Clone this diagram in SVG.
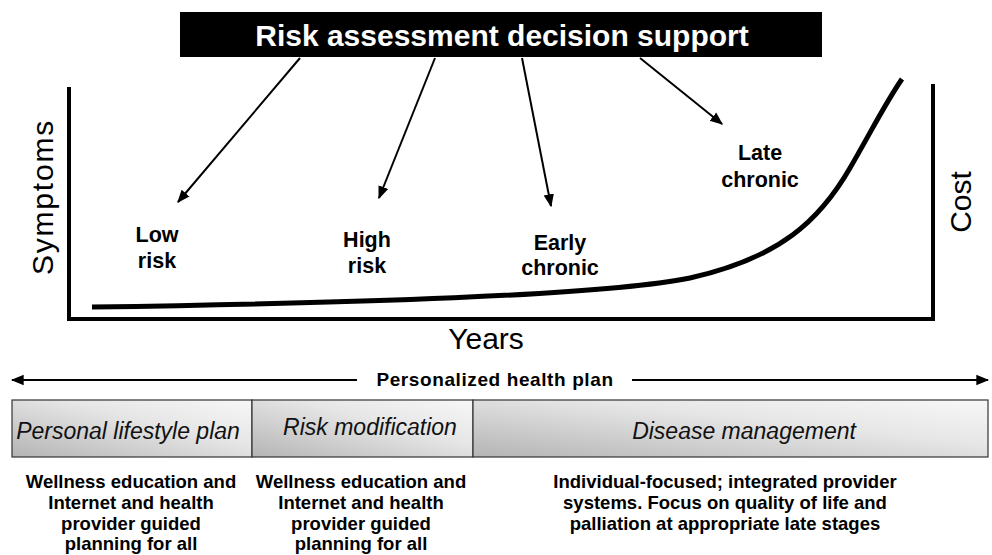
<svg xmlns="http://www.w3.org/2000/svg" width="992" height="555" viewBox="0 0 992 555">
<style>
.lbl{font-family:"Liberation Sans",Arial,sans-serif;font-weight:bold;font-size:21.5px;fill:#000;text-anchor:middle}
.axis{font-family:"Liberation Sans",Arial,sans-serif;font-size:30px;fill:#000;text-anchor:middle}
.box{font-family:"Liberation Sans",Arial,sans-serif;font-style:italic;font-size:23px;fill:#111;text-anchor:middle}
.desc{font-family:"Liberation Sans",Arial,sans-serif;font-weight:bold;font-size:18.5px;fill:#000;text-anchor:middle}
.ax{stroke:#000;stroke-width:4;fill:none}
.arr{stroke:#000;stroke-width:2;fill:none;marker-end:url(#ah)}
</style>
<defs>
<marker id="ah" viewBox="0 0 10 10" refX="9" refY="5" markerWidth="6.5" markerHeight="6.5" markerUnits="strokeWidth" orient="auto">
<path d="M0,1 L10,5 L0,9 z" fill="#000"/>
</marker>
<linearGradient id="g" x1="0" y1="1" x2="1" y2="0">
<stop offset="0" stop-color="#b4b4b4"/>
<stop offset="0.6" stop-color="#e6e6e6"/>
<stop offset="1" stop-color="#f7f7f7"/>
</linearGradient>
</defs>
<rect width="992" height="555" fill="#fff"/>

<g id="title">
<rect x="180" y="12" width="642" height="45" fill="#000"/>
<text x="502" y="46" font-family="Liberation Sans,Arial,sans-serif" font-weight="bold" font-size="30" fill="#fff" text-anchor="middle">Risk assessment decision support</text>
</g>

<g id="chart">
<path class="ax" d="M69,87 V319 H933 V84"/>
<path d="M92,307 C 350,303 600,296 690,278 C 780,258 820,220 850,168 C 872,130 886,102 902,79" stroke="#000" stroke-width="5" fill="none"/>
<text class="axis" transform="translate(53,197) rotate(-90)" letter-spacing="1.8">Symptoms</text>
<text class="axis" transform="translate(971,202) rotate(-90)">Cost</text>
<text class="axis" x="486" y="349">Years</text>
</g>

<g id="low-risk"><text class="lbl" x="157" y="242">Low</text><text class="lbl" x="157" y="268">risk</text></g>
<g id="high-risk"><text class="lbl" x="367" y="247">High</text><text class="lbl" x="367" y="273">risk</text></g>
<g id="early-chronic"><text class="lbl" x="560" y="250">Early</text><text class="lbl" x="560" y="275">chronic</text></g>
<g id="late-chronic"><text class="lbl" x="760" y="160">Late</text><text class="lbl" x="760" y="187">chronic</text></g>

<g id="connectors">
<line class="arr" x1="300" y1="58" x2="178" y2="202"/>
<line class="arr" x1="435" y1="58" x2="379" y2="198"/>
<line class="arr" x1="522" y1="58" x2="551" y2="206"/>
<line class="arr" x1="640" y1="58" x2="722" y2="124"/>
<line class="arr" x1="357" y1="380" x2="12" y2="380"/>
<line class="arr" x1="632" y1="380" x2="988" y2="380"/>
</g>

<g id="plan-label">
<text x="495" y="386" font-family="Liberation Sans,Arial,sans-serif" font-weight="bold" font-size="19" letter-spacing="0.6" text-anchor="middle">Personalized health plan</text>
</g>

<g id="personal-lifestyle-plan">
<rect x="12" y="400" width="240" height="57" fill="url(#g)" stroke="#333" stroke-width="1.2"/>
<text class="box" x="128" y="439">Personal lifestyle plan</text>
</g>
<g id="risk-modification">
<rect x="252" y="400" width="221" height="57" fill="url(#g)" stroke="#333" stroke-width="1.2"/>
<text class="box" x="370" y="435">Risk modification</text>
</g>
<g id="disease-management">
<rect x="473" y="400" width="515" height="57" fill="url(#g)" stroke="#333" stroke-width="1.2"/>
<text class="box" x="744" y="439">Disease management</text>
</g>

<g id="desc1">
<text class="desc" x="131" y="488">Wellness education and</text>
<text class="desc" x="131" y="509">Internet and health</text>
<text class="desc" x="131" y="530">provider guided</text>
<text class="desc" x="131" y="550">planning for all</text>
</g>
<g id="desc2">
<text class="desc" x="361" y="488">Wellness education and</text>
<text class="desc" x="361" y="509">Internet and health</text>
<text class="desc" x="361" y="530">provider guided</text>
<text class="desc" x="361" y="550">planning for all</text>
</g>
<g id="desc3">
<text class="desc" x="725" y="488">Individual-focused; integrated provider</text>
<text class="desc" x="725" y="509">systems. Focus on quality of life and</text>
<text class="desc" x="725" y="530">palliation at appropriate late stages</text>
</g>
</svg>
